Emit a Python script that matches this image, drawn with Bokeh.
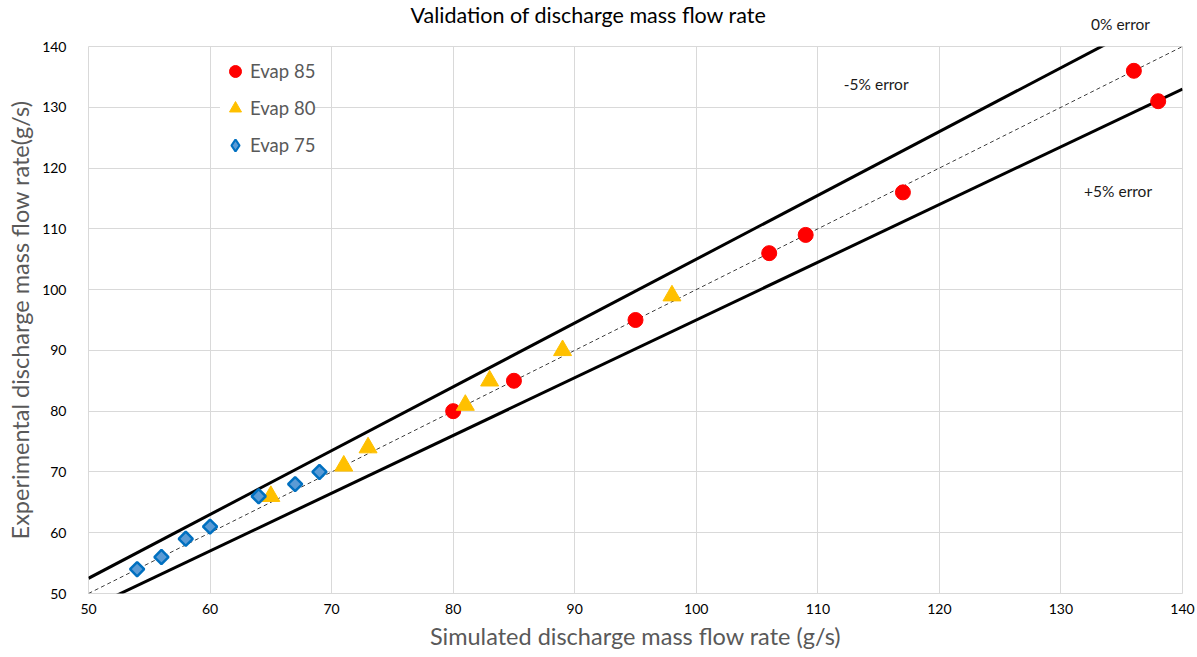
from bokeh.plotting import figure
from bokeh.models import Legend, LegendItem, Label, Range1d, FixedTicker, Title
from bokeh.embed import file_html
from bokeh.resources import INLINE
import numpy as np

# Data
evap85_x = [80, 85, 95, 106, 109, 117, 136, 138]
evap85_y = [80, 85, 95, 106, 109, 116, 136, 131]
evap80_x = [65, 71, 73, 81, 83, 89, 98]
evap80_y = [66, 71, 74, 81, 85, 90, 99]
evap75_x = [54, 56, 58, 60, 64, 67, 69]
evap75_y = [54, 56, 59, 61, 66, 68, 70]
ref_x = [50, 140]
err_minus5 = 1.05   # -5% error line factor
err_zero = 1.0
err_plus5 = 0.95    # +5% error line factor
ticks = [50, 60, 70, 80, 90, 100, 110, 120, 130, 140]

FONT = "Lato"

p = figure(width=1197, height=657, output_backend="svg", toolbar_location=None,
           x_range=Range1d(50, 140), y_range=Range1d(50, 140),
           min_border_left=88, min_border_right=15, min_border_top=44, min_border_bottom=64)
p.title_location = None

p.outline_line_color = "#d9d9d9"
p.grid.grid_line_color = "#d9d9d9"
p.grid.grid_line_width = 1
for ax in (p.xaxis, p.yaxis):
    ax.ticker = FixedTicker(ticks=ticks)
    ax.axis_line_color = None
    ax.major_tick_line_color = None
    ax.minor_tick_line_color = None
    ax.major_tick_out = 0
    ax.major_label_text_font = FONT
    ax.major_label_text_font_size = "14px"
    ax.major_label_text_color = "#000000"
    ax.axis_label_text_font = FONT
    ax.axis_label_text_font_size = "23.5px"
    ax.axis_label_text_font_style = "normal"
    ax.axis_label_text_color = "#595959"
p.xgrid.ticker = FixedTicker(ticks=ticks)
p.ygrid.ticker = FixedTicker(ticks=ticks)
p.xaxis.axis_label = "Simulated discharge mass flow rate (g/s)"
p.yaxis.axis_label = "Experimental discharge mass flow rate(g/s)"
p.xaxis.major_label_standoff = 10
p.xaxis.axis_label_standoff = 5
p.yaxis.major_label_standoff = 22
p.yaxis.major_label_text_align = "left"
p.yaxis.axis_label_standoff = 5

rx = np.array(ref_x, dtype=float)
p.line(rx, rx * err_minus5, line_color="black", line_width=3)
p.line(rx, rx * err_plus5, line_color="black", line_width=3)
p.line(rx, rx * err_zero, line_color="#404040", line_width=1, line_dash="4 3")

r85 = p.scatter(evap85_x, evap85_y, marker="circle", size=15,
                fill_color="#FF0000", line_color="#FF0000")
r80 = p.scatter(evap80_x, evap80_y, marker="triangle", size=18,
                fill_color="#FFC000", line_color="#FFC000")
r75 = p.scatter(evap75_x, evap75_y, marker="square", size=10, angle=np.pi / 4,
                fill_color="#5B9BD5", line_color="#0070C0", line_width=2.5)
# legend-only glyph for the diamond symbol (a single NaN point, nothing drawn)
r75_leg = p.scatter([np.nan], [np.nan], marker="diamond", size=10,
                    fill_color="#5B9BD5", line_color="#0070C0", line_width=2.2)

legend = Legend(items=[LegendItem(label="Evap 85", renderers=[r85]),
                       LegendItem(label="Evap 80", renderers=[r80]),
                       LegendItem(label="Evap 75", renderers=[r75_leg])],
                location=(132, 431), border_line_color=None,
                background_fill_color="white", background_fill_alpha=1,
                glyph_width=30, glyph_height=34, label_standoff=0,
                label_text_font=FONT, label_text_font_size="18.5px",
                label_text_color="#595959", label_height=34,
                spacing=3, padding=10, margin=0)
p.add_layout(legend)

for txt, lx, ly in [("-5% error", 114.8, 133.8), ("+5% error", 134.7, 116.2)]:
    p.add_layout(Label(x=lx, y=ly, text=txt, text_align="center", text_baseline="middle",
                       text_font=FONT, text_font_size="15.5px", text_color="#1a1a1a"))

# "0% error" sits above the plot area: placed in the top panel (not clipped)
p.add_layout(Label(x=134.9, y=143.7, text="0% error", text_align="center", text_baseline="middle",
                   text_font=FONT, text_font_size="15.5px", text_color="#1a1a1a"), "above")
p.add_layout(Title(text="Validation of discharge mass flow rate", align="left", offset=322,
                   vertical_align="middle",
                   text_font=FONT, text_font_size="21.5px", text_font_style="normal",
                   text_color="#000000", standoff=0), "above")

open("out.html", "w").write(file_html(p, INLINE))
